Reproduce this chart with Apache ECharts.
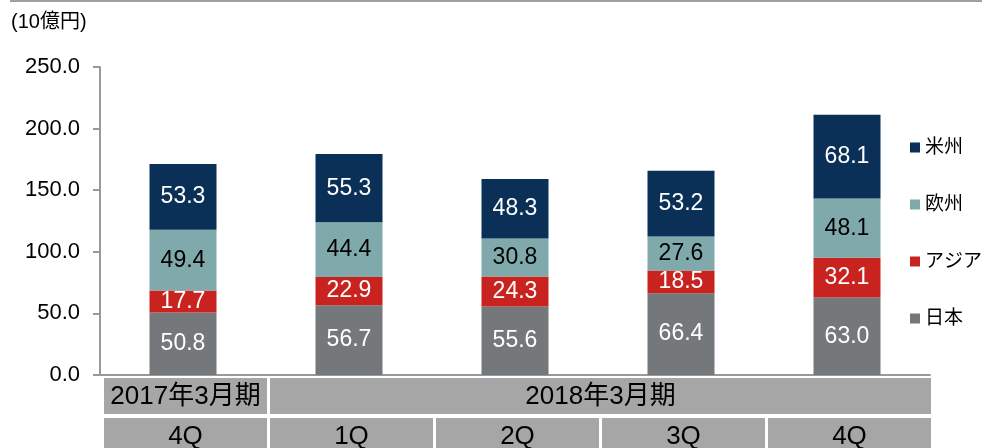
<!DOCTYPE html>
<html>
<head>
<meta charset="utf-8">
<script src="https://cdn.jsdelivr.net/npm/echarts@6/dist/echarts.min.js"></script>
<style>
html, body { margin: 0; padding: 0; background: #fff; }
#main { width: 982px; height: 448px; }
</style>
</head>
<body>
<div id="main"></div>
<script>
// 四半期（カテゴリ）
var quarters = ['4Q', '1Q', '2Q', '3Q', '4Q'];
// 期の見出し：[ラベル, 開始index, 終了index]
var periods = [['2017年3月期', 0, 0], ['2018年3月期', 1, 4]];
// 地域別売上（10億円）
var japan = [50.8, 56.7, 55.6, 66.4, 63.0];
var asia = [17.7, 22.9, 24.3, 18.5, 32.1];
var europe = [49.4, 44.4, 30.8, 27.6, 48.1];
var america = [53.3, 55.3, 48.3, 53.2, 68.1];
var legendOrder = ['米州', '欧州', 'アジア', '日本'];

var FONT = "'Liberation Sans', Arial, 'Noto Sans CJK JP', sans-serif";
var chart = echarts.init(document.getElementById('main'));

function barSeries(name, data, color, labelColor) {
	return {
		name: name,
		type: 'bar',
		stack: 'total',
		barWidth: 67,
		data: data,
		itemStyle: { color: color },
		label: {
			show: true,
			position: 'inside',
			color: labelColor,
			fontSize: 23,
			fontFamily: FONT,
			formatter: function (p) { return p.value.toFixed(1); }
		}
	};
}

var option = {
	animation: false,
	textStyle: { fontFamily: FONT },
	grid: { left: 100, right: 52, top: 67, bottom: 73 },
	legend: {
		orient: 'vertical',
		left: 905,
		top: 133,
		icon: 'rect',
		itemWidth: 10,
		itemHeight: 10,
		itemGap: 38,
		data: legendOrder,
		textStyle: { fontSize: 19, color: '#000', fontFamily: FONT }
	},
	xAxis: {
		type: 'category',
		data: quarters,
		axisLine: { lineStyle: { color: '#999', width: 2 } },
		axisTick: { show: false },
		axisLabel: { show: false }
	},
	yAxis: {
		type: 'value',
		min: 0,
		max: 250,
		interval: 50,
		splitLine: { show: false },
		axisLine: { show: true, lineStyle: { color: '#999', width: 2 } },
		axisTick: { show: true, length: 7, lineStyle: { color: '#999', width: 2 } },
		axisLabel: {
			margin: 20,
			fontSize: 22,
			color: '#000',
			fontFamily: FONT,
			formatter: function (v) { return v.toFixed(1); }
		}
	},
	series: [
		barSeries('日本', japan, '#75787b', '#fff'),
		barSeries('アジア', asia, '#c8231f', '#fff'),
		barSeries('欧州', europe, '#80a9ac', '#000'),
		barSeries('米州', america, '#0a3057', '#fff')
	]
};
chart.setOption(option);

// 下部の表（期・四半期）
function buildTable() {
	var half = 83;
	var els = [];
	var centers = quarters.map(function (q, i) {
		return chart.convertToPixel({ xAxisIndex: 0 }, i);
	});
	function cell(x1, x2, y, h, text) {
		els.push({
			type: 'rect',
			shape: { x: x1, y: y, width: x2 - x1, height: h },
			style: { fill: '#a6a6a6' },
			silent: true
		});
		els.push({
			type: 'text',
			x: (x1 + x2) / 2,
			y: y + h / 2 + 1,
			style: {
				text: text, fill: '#000', font: '26px ' + FONT,
				align: 'center', verticalAlign: 'middle'
			},
			silent: true
		});
	}
	periods.forEach(function (p) {
		cell(centers[p[1]] - half + 4, centers[p[2]] + half + 1, 378, 36, p[0]);
	});
	quarters.forEach(function (q, i) {
		cell(centers[i] - half + 4, centers[i] + half + 1, 418, 36, q);
	});
	// 上端の線と単位
	els.push({
		type: 'line',
		shape: { x1: 10, y1: 1, x2: 982, y2: 1 },
		style: { stroke: '#a0a0a0', lineWidth: 2 },
		silent: true
	});
	els.push({
		type: 'text', x: 11, y: 22,
		style: { text: '(10億円)', fill: '#000', font: '20px ' + FONT, verticalAlign: 'middle' },
		silent: true
	});
	chart.setOption({ graphic: els });
}
buildTable();

window.onresize = function () {
	chart.resize();
	buildTable();
};
</script>
</body>
</html>
